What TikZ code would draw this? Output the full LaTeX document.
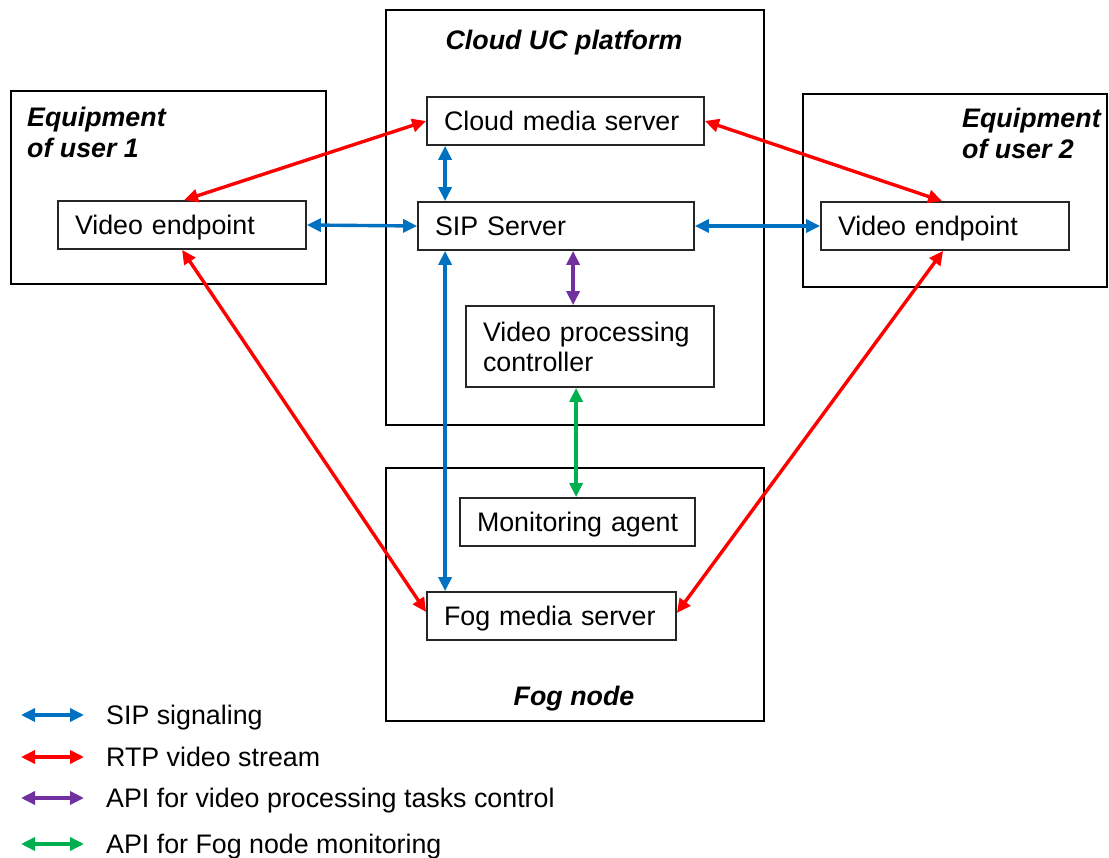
\documentclass[tikz,border=0pt]{standalone}
\usepackage{fontspec}
\setmainfont{Liberation Sans}
\usetikzlibrary{arrows.meta,calc}
\definecolor{sipblue}{RGB}{0,112,192}
\definecolor{rtpred}{RGB}{255,0,0}
\definecolor{apipurple}{RGB}{112,48,160}
\definecolor{apigreen}{RGB}{0,176,80}
\tikzset{
  tip/.tip={Triangle[length=14pt,width=13pt]},
  conn/.style={line width=3.4pt,{tip}-{tip}},
  sipc/.style={conn,draw=sipblue},
  rtpc/.style={conn,draw=rtpred},
  vpcc/.style={conn,draw=apipurple},
  monc/.style={conn,draw=apigreen},
  outerbox/.style={draw=black,line width=2.2pt},
  innerbox/.style={draw=black!85,line width=1.8pt,inner xsep=17pt,inner ysep=0pt,align=left,
     font=\fontsize{26.8}{30}\selectfont},
  oneline/.style={text height=19.2pt,text depth=0pt},
  title/.style={font=\fontsize{26.8}{31}\selectfont\bfseries\itshape,inner sep=0pt,align=left},
  legtext/.style={font=\fontsize{26.8}{30}\selectfont,anchor=west,inner sep=0pt,text height=19.2pt,text depth=0pt}
}
\begin{document}
\begin{tikzpicture}[x=1pt,y=-1pt]
\useasboundingbox (0,0) rectangle (1109,858);
% outer containers
\draw[outerbox] (11,91) rectangle (326,284);
\draw[outerbox] (386,10) rectangle (764,425);
\draw[outerbox] (803,94) rectangle (1107,287);
\draw[outerbox] (386,468) rectangle (764,721);
% titles
\node[title] (tcloud) at (564,42.5) {Cloud UC platform};
\node[title,anchor=west] (teq1) at (27,132) {Equipment\\of user 1};
\node[title,anchor=west] (teq2) at (962,133) {Equipment\\of user 2};
\node[title] (tfog) at (574,699) {Fog node};
% inner boxes
\node[innerbox,oneline,text width=243pt,minimum height=48pt] (cms) at (565.5,121) {Cloud media server};
\node[innerbox,oneline,text width=242pt,minimum height=48pt] (sip) at (556,226) {SIP Server};
\node[innerbox,text width=214pt,minimum height=81pt] (vpc) at (590,346.5) {Video processing\\controller};
\node[innerbox,oneline,text width=201pt,minimum height=48pt] (ma) at (577.5,522) {\mbox{Monitoring agent}};
\node[innerbox,oneline,text width=215pt,minimum height=48pt] (fms) at (551.5,616) {Fog media server};
\node[innerbox,oneline,text width=214pt,minimum height=48pt] (ve1) at (182,225) {Video endpoint};
\node[innerbox,oneline,text width=214pt,minimum height=48pt] (ve2) at (945,226) {Video endpoint};
% RTP connectors
\draw[rtpc] (cms.west) -- ($(ve1.north west)+(127,0)$);
\draw[rtpc] ($(ve1.south west)+(125,0)$) -- ($(fms.west)+(0,-4)$);
\draw[rtpc] (cms.east) -- ($(ve2.north west)+(122,0)$);
\draw[rtpc] ($(ve2.south west)+(123,0)$) -- ($(fms.east)+(0,-3)$);
% SIP connectors
\draw[sipc] ($(cms.south west)+(19,0)$) -- ($(sip.north west)+(28,0)$);
\draw[sipc] (ve1.east) -- (sip.west);
\draw[sipc] (sip.east) -- (ve2.west);
\draw[sipc] ($(sip.south west)+(28,0)$) -- ($(fms.north west)+(19,0)$);
% API connectors
\draw[vpcc] ($(sip.south west)+(156,0)$) -- ($(vpc.north west)+(108,0)$);
\draw[monc] ($(vpc.south west)+(111,0)$) -- ($(ma.north west)+(117,0)$);
% legend
\coordinate (l1a) at (21,715); \coordinate (l1b) at (84,715);
\coordinate (l2a) at (21,757); \coordinate (l2b) at (84,757);
\coordinate (l3a) at (21,798); \coordinate (l3b) at (84,798);
\coordinate (l4a) at (21,844); \coordinate (l4b) at (84,844);
\draw[sipc] (l1a) -- (l1b);
\draw[rtpc] (l2a) -- (l2b);
\draw[vpcc] (l3a) -- (l3b);
\draw[monc] (l4a) -- (l4b);
\node[legtext] (lt1) at (106,715) {SIP signaling};
\node[legtext] (lt2) at (106,757) {RTP video stream};
\node[legtext] (lt3) at (106,798) {API for video processing tasks control};
\node[legtext] (lt4) at (106,844) {API for Fog node monitoring};
\end{tikzpicture}
\end{document}
